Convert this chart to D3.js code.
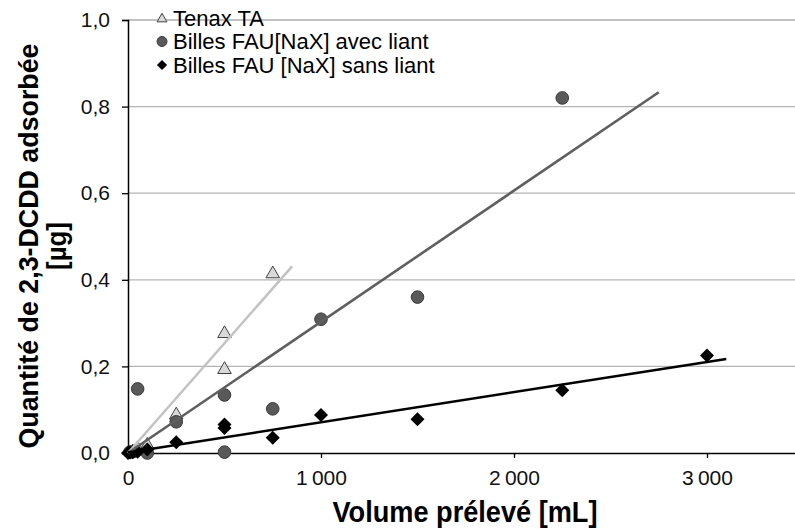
<!DOCTYPE html>
<html>
<head>
<meta charset="utf-8">
<script src="https://cdn.jsdelivr.net/npm/d3@7"></script>
<style>
  body { margin: 0; background: #fff; }
  text { font-family: "Liberation Sans", Arial, sans-serif; }
  .title { font-family: "Liberation Sans", Arial, sans-serif; font-weight: bold; }
  .tick text { font-size: 21px; }
</style>
</head>
<body>
<div id="chart"></div>
<script>
// data: [volume mL, quantity µg]
var tenax = [[25,0.005],[50,0.012],[100,0.02],[250,0.09],[500,0.195],[500,0.278],[750,0.416]];
var avecLiant = [[10,0.002],[25,0.003],[50,0.148],[100,0.0],[250,0.072],[500,0.134],[500,0.002],
                 [750,0.102],[1000,0.309],[1500,0.36],[2250,0.82]];
var sansLiant = [[0,0.0],[10,0.001],[25,0.002],[50,0.003],[100,0.008],[250,0.025],[500,0.058],[500,0.066],
                 [750,0.035],[1000,0.088],[1500,0.078],[2250,0.145],[3000,0.225]];

// linear trendlines: slope, intercept, x range
var trendTenax = {slope: 0.000507, icpt: 0.0, from: 0, to: 850};
var trendAvec  = {slope: 0.000303, icpt: 0.0, from: 0, to: 2750};
var trendSans  = {slope: 0.0000697, icpt: 0.0012, from: 0, to: 3100};

var yTicks = [0, 0.2, 0.4, 0.6, 0.8, 1.0];
var xTicks = [0, 1000, 2000, 3000];
var legendNames = ["Tenax TA", "Billes FAU[NaX] avec liant", "Billes FAU [NaX] sans liant"];

var W = 795, H = 529;
var svg = d3.select("#chart").append("svg")
  .attr("width", W).attr("height", H);

var x = d3.scaleLinear().domain([0, 3500]).range([128, 803.5]);
var y = d3.scaleLinear().domain([0, 1]).range([453, 20]);

// gridlines
svg.append("g").selectAll("line")
  .data(yTicks.filter(function(d) { return d > 0; }))
  .enter().append("line")
  .attr("x1", x(0)).attr("x2", x(3500))
  .attr("y1", function(d) { return y(d); }).attr("y2", function(d) { return y(d); })
  .attr("stroke", function(d) { return d == 1 ? "#868686" : "#b4b4b4"; })
  .attr("stroke-width", 1.2);

// axes
var fmtY = function(d) { return d3.format(".1f")(d).replace(".", ","); };
var fmtX = function(d) { return d3.format(",")(d).replace(",", "\u2009"); };

var yAxis = svg.append("g")
  .attr("transform", "translate(" + x(0) + ",0)")
  .call(d3.axisLeft(y).tickValues(yTicks).tickFormat(fmtY).tickSize(6).tickPadding(12));
var xAxis = svg.append("g")
  .attr("transform", "translate(0," + y(0) + ")")
  .call(d3.axisBottom(x).tickValues(xTicks).tickFormat(fmtX).tickSize(5).tickPadding(12));

[yAxis, xAxis].forEach(function(a) {
  a.attr("font-family", null).attr("font-size", null);
  a.select(".domain").attr("stroke", "#000").attr("stroke-width", 1.5);
  a.selectAll(".tick line").attr("stroke", "#000").attr("stroke-width", 1.3);
  a.selectAll("text").attr("fill", "#111");
});
xAxis.selectAll(".tick").filter(function(d) { return d == 0; }).select("line").remove();

// markers
var symTri = d3.symbol().type(d3.symbolTriangle).size(80);
var symSq = d3.symbol().type(d3.symbolSquare).size(98);

svg.append("g").selectAll("path")
  .data(tenax).enter().append("path")
  .attr("d", symTri)
  .attr("transform", function(d) { return "translate(" + x(d[0]) + "," + (y(d[1]) + 1) + ")"; })
  .attr("fill", "#d9d9d9").attr("stroke", "#404040").attr("stroke-width", 1);

svg.append("g").selectAll("circle")
  .data(avecLiant).enter().append("circle")
  .attr("cx", function(d) { return x(d[0]); })
  .attr("cy", function(d) { return y(d[1]); })
  .attr("r", 6.3)
  .attr("fill", "#595959").attr("stroke", "#3a3a3a").attr("stroke-width", 1);

svg.append("g").selectAll("path")
  .data(sansLiant).enter().append("path")
  .attr("d", symSq)
  .attr("transform", function(d) { return "translate(" + x(d[0]) + "," + y(d[1]) + ") rotate(45)"; })
  .attr("fill", "#000");

// trendlines
function trend(t, color) {
  svg.append("line")
    .attr("x1", x(t.from)).attr("y1", y(t.icpt + t.slope * t.from))
    .attr("x2", x(t.to)).attr("y2", y(t.icpt + t.slope * t.to))
    .attr("stroke", color).attr("stroke-width", 2.6);
}
trend(trendTenax, "#c3c3c3");
trend(trendAvec, "#5f5f5f");
trend(trendSans, "#000");

// legend
var leg = svg.append("g").attr("transform", "translate(162,18)");
legendNames.forEach(function(name, i) {
  var g = leg.append("g").attr("transform", "translate(0," + (i * 23.5) + ")");
  if (i == 0) g.append("path").attr("d", d3.symbol().type(d3.symbolTriangle).size(42)).attr("transform", "translate(0,1)")
    .attr("fill", "#d9d9d9").attr("stroke", "#404040").attr("stroke-width", 1);
  if (i == 1) g.append("circle").attr("r", 5).attr("fill", "#595959").attr("stroke", "#3a3a3a");
  if (i == 2) g.append("path").attr("d", d3.symbol().type(d3.symbolSquare).size(52)).attr("transform", "rotate(45)").attr("fill", "#000");
  g.append("text").attr("x", 11).attr("y", 0).attr("dy", "0.36em")
    .attr("font-size", 22).attr("fill", "#000").text(name);
});

// axis titles (condensed bold look)
svg.append("text").attr("class", "title")
  .attr("x", 465).attr("y", 522)
  .attr("text-anchor", "middle").attr("font-size", 29)
  .attr("textLength", 265).attr("lengthAdjust", "spacingAndGlyphs")
  .text("Volume prélevé [mL]");

var yt = svg.append("g").attr("transform", "translate(0,246) rotate(-90)");
yt.append("text").attr("class", "title")
  .attr("x", 0).attr("y", 38).attr("text-anchor", "middle").attr("font-size", 28)
  .attr("textLength", 405).attr("lengthAdjust", "spacingAndGlyphs")
  .text("Quantité de 2,3-DCDD adsorbée");
yt.append("text").attr("class", "title")
  .attr("x", 0).attr("y", 66).attr("text-anchor", "middle").attr("font-size", 28)
  .attr("textLength", 48).attr("lengthAdjust", "spacingAndGlyphs")
  .text("[µg]");
</script>
</body>
</html>
